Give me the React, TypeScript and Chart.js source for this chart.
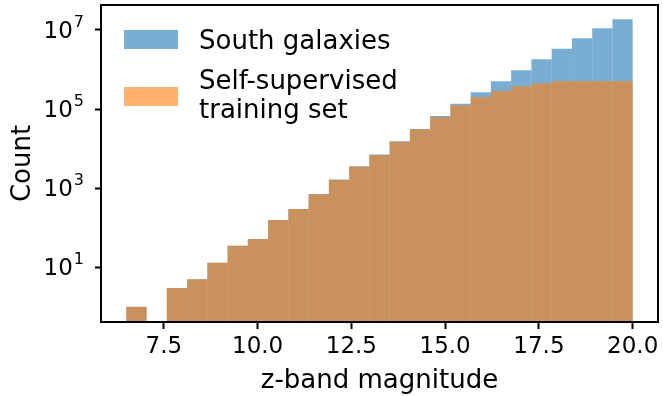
import React, { useEffect, useRef } from 'react';
import { Chart, registerables } from 'chart.js';

Chart.register(...registerables);

// Histogram bins (z-band magnitude)
const binStart = 6.5;
const binWidth = 0.54;

// Counts per bin; null = empty bin (not drawn on the log axis)
const southCounts: (number | null)[] = [
  1, null, 3, 5, 13, 35, 52, 157, 298, 710, 1650, 3600, 7100,
  15300, 31500, 66800, 137000, 266000, 505000, 957000, 1820000,
  3370000, 6170000, 11000000, 18700000,
];
const trainingCounts: (number | null)[] = [
  1, null, 3, 5, 13, 35, 52, 157, 298, 702, 1611, 3500, 6920,
  15000, 30800, 63000, 124700, 202000, 287000, 384000, 449000,
  510000, 510000, 510000, 510000,
];

const seriesNames = ['South galaxies', ['Self-supervised', 'training set']];
const xTicks = [7.5, 10, 12.5, 15, 17.5, 20];
const xTickLabels = ['7.5', '10.0', '12.5', '15.0', '17.5', '20.0'];
const yTickExponents = [1, 3, 5, 7];
const xTitle = 'z-band magnitude';
const yTitle = 'Count';

const BLUE = 'rgba(31,119,180,0.6)';
const ORANGE = 'rgba(255,127,14,0.6)';
const FONT = '"DejaVu Sans", "Liberation Sans", sans-serif';

function toPoints(counts: (number | null)[]) {
  const pts: { x: number; y: number }[] = [];
  counts.forEach((c, i) => {
    if (c !== null && c > 0) pts.push({ x: binStart + binWidth * (i + 0.5), y: c });
  });
  return pts;
}

const decor = {
  id: 'decor',
  afterDatasetsDraw(chart: any) {
    const { ctx, chartArea: a, scales } = chart;
    ctx.save();
    // frame
    ctx.strokeStyle = '#000';
    ctx.lineWidth = 2;
    ctx.strokeRect(a.left, a.top, a.right - a.left, a.bottom - a.top);

    ctx.fillStyle = '#000';
    ctx.textBaseline = 'alphabetic';

    // x tick labels
    ctx.font = `23px ${FONT}`;
    ctx.textAlign = 'center';
    xTicks.forEach((v, i) => {
      ctx.fillText(xTickLabels[i], scales.x.getPixelForValue(v), 353);
    });

    // y tick labels: 10^k
    yTickExponents.forEach((e) => {
      const y = scales.y.getPixelForValue(Math.pow(10, e));
      const right = 84;
      ctx.textAlign = 'right';
      ctx.font = `16px ${FONT}`;
      const ew = ctx.measureText(String(e)).width;
      ctx.fillText(String(e), right, y - 3);
      ctx.font = `23px ${FONT}`;
      ctx.fillText('10', right - ew - 1, y + 8);
    });

    // axis titles
    ctx.font = `26px ${FONT}`;
    ctx.textAlign = 'center';
    ctx.fillText(xTitle, (a.left + a.right) / 2, 388);
    ctx.save();
    ctx.translate(29.5, (a.top + a.bottom) / 2);
    ctx.rotate(-Math.PI / 2);
    ctx.fillText(yTitle, 0, 0);
    ctx.restore();

    // legend
    ctx.fillStyle = BLUE;
    ctx.fillRect(124, 30, 54, 19);
    ctx.fillStyle = ORANGE;
    ctx.fillRect(124, 87, 54, 19);
    ctx.fillStyle = '#000';
    ctx.textAlign = 'left';
    ctx.font = `26px ${FONT}`;
    ctx.fillText(seriesNames[0] as string, 199, 49);
    const lines = seriesNames[1] as string[];
    ctx.fillText(lines[0], 199, 89);
    ctx.fillText(lines[1], 199, 118);
    ctx.restore();
  },
};

const barStyle = {
  borderWidth: 0,
  grouped: false,
  barPercentage: 1,
  categoryPercentage: 1,
  inflateAmount: 0,
};

export default function App() {
  const ref = useRef<HTMLCanvasElement>(null);

  useEffect(() => {
    document.body.style.margin = '0';
    const canvas = ref.current;
    if (!canvas) return;
    const chart = new Chart(canvas, {
      type: 'bar',
      data: {
        datasets: [
          {
            label: (seriesNames[1] as string[]).join(' '),
            data: toPoints(trainingCounts),
            backgroundColor: ORANGE,
            ...barStyle,
          } as any,
          {
            label: seriesNames[0] as string,
            data: toPoints(southCounts),
            backgroundColor: BLUE,
            ...barStyle,
          } as any,
        ],
      },
      options: {
        animation: false,
        responsive: false,
        devicePixelRatio: 1,
        layout: { padding: { top: 5, right: 5, left: 0, bottom: 0 } },
        plugins: { legend: { display: false }, tooltip: { enabled: false } },
        scales: {
          x: {
            type: 'linear',
            min: 5.825,
            max: 20.675,
            offset: false,
            ticks: { display: false },
            border: { display: false },
            grid: {
              display: true,
              offset: false,
              drawOnChartArea: false,
              drawTicks: true,
              tickLength: 7,
              tickWidth: 2,
              tickColor: '#000',
            },
            afterBuildTicks: (s: any) => {
              s.ticks = xTicks.map((v) => ({ value: v }));
            },
            afterFit: (s: any) => {
              s.height = 74;
            },
          },
          y: {
            type: 'logarithmic',
            min: Math.pow(10, -0.383),
            max: Math.pow(10, 7.632),
            ticks: { display: false },
            border: { display: false },
            grid: {
              display: true,
              offset: false,
              drawOnChartArea: false,
              drawTicks: true,
              tickLength: 6,
              tickWidth: 2,
              tickColor: '#000',
            },
            afterBuildTicks: (s: any) => {
              s.ticks = yTickExponents.map((e) => ({ value: Math.pow(10, e) }));
            },
            afterFit: (s: any) => {
              s.width = 101;
            },
          },
        },
      } as any,
      plugins: [decor],
    });
    return () => chart.destroy();
  }, []);

  return (
    <div style={{ width: 663, height: 396 }}>
      <canvas ref={ref} width={663} height={396} style={{ display: 'block' }} />
    </div>
  );
}
